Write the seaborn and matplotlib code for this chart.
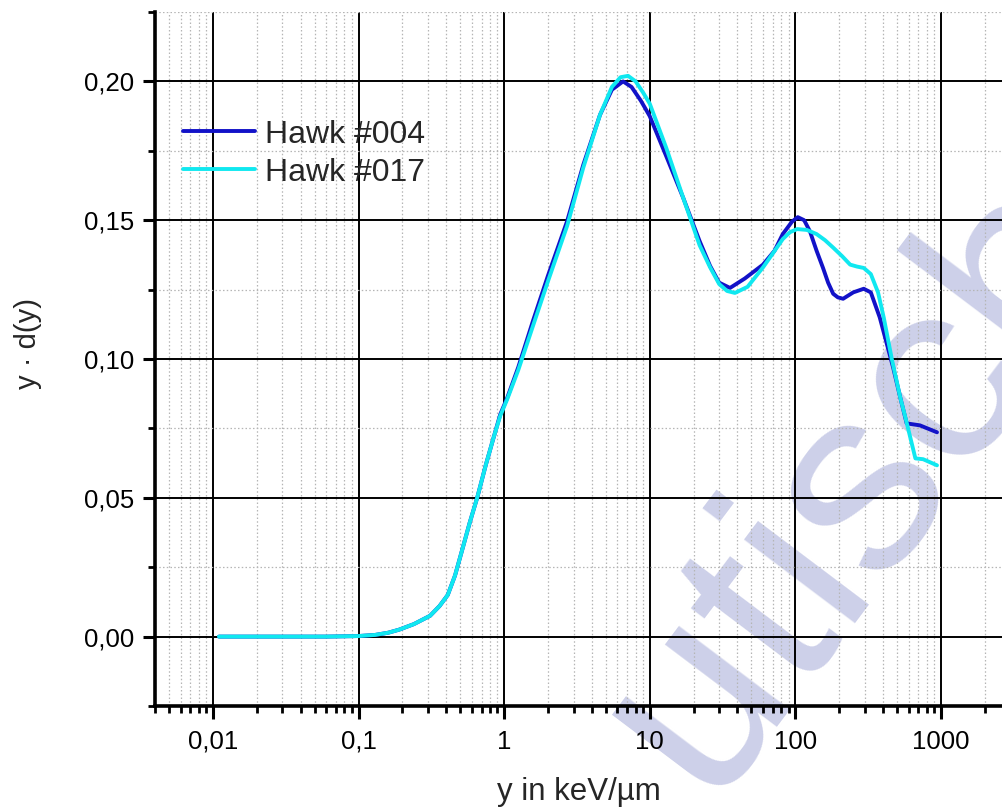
import numpy as np
import pandas as pd
import matplotlib
matplotlib.use("Agg")
import matplotlib.pyplot as plt
import matplotlib.ticker as mticker
import seaborn as sns

# ---- data ----
x_004 = [0.011, 0.03, 0.06, 0.1, 0.13, 0.16, 0.19, 0.24, 0.31, 0.36, 0.41, 0.46, 0.52,
         0.58, 0.653, 0.75, 0.85, 0.94, 1.05, 1.25, 1.58, 2.0, 2.71, 3.5, 4.56, 5.5,
         6.56, 7.5, 8.7, 10, 13, 17, 22, 26, 30, 35.6, 45, 60, 72, 82, 95, 104, 115, 126,
         140, 155, 168, 182, 196, 213, 250, 295, 330, 380, 470, 526, 582, 717, 940]
y_004 = [0.0, 0.0, 0.0, 0.0002, 0.0006, 0.0014, 0.0025, 0.0045, 0.0075, 0.011, 0.015,
         0.022, 0.032, 0.041, 0.050, 0.062, 0.072, 0.080, 0.086, 0.097, 0.1138, 0.130,
         0.1497, 0.170, 0.188, 0.197, 0.200, 0.198, 0.193, 0.1875, 0.173, 0.158, 0.1425,
         0.1335, 0.1275, 0.1256, 0.129, 0.134, 0.139, 0.145, 0.1495, 0.1511, 0.150, 0.146,
         0.139, 0.1328, 0.1275, 0.1235, 0.1222, 0.1217, 0.124, 0.1253, 0.124, 0.115,
         0.0969, 0.0861, 0.0768, 0.0761, 0.0736]

x_017 = [0.011, 0.03, 0.06, 0.1, 0.13, 0.16, 0.19, 0.24, 0.31, 0.36, 0.41, 0.46, 0.52,
         0.58, 0.653, 0.75, 0.85, 0.94, 1.05, 1.25, 1.58, 2.0, 2.71, 3.5, 4.56, 5.5,
         6.3, 7.1, 8.0, 9.0, 10, 13, 17, 22, 26, 30, 34, 38.5, 47, 60, 70, 82, 92, 103,
         120, 140, 160, 183, 210, 238, 265, 295, 330, 370, 405, 460, 526, 570, 668, 755, 940]
y_017 = [0.0, 0.0, 0.0, 0.0002, 0.0006, 0.0014, 0.0025, 0.0045, 0.0075, 0.011, 0.015,
         0.022, 0.032, 0.041, 0.050, 0.062, 0.072, 0.0795, 0.0855, 0.096, 0.112, 0.128,
         0.148, 0.169, 0.188, 0.198, 0.2015, 0.202, 0.200, 0.196, 0.192, 0.176, 0.158,
         0.141, 0.133, 0.127, 0.1245, 0.1238, 0.126, 0.133, 0.138, 0.1432, 0.1457, 0.1468,
         0.1465, 0.145, 0.1428, 0.140, 0.137, 0.134, 0.1333, 0.1328, 0.1306, 0.124, 0.1149,
         0.100, 0.0861, 0.079, 0.0642, 0.0639, 0.0617]

series_names = ["Hawk #004", "Hawk #017"]
x_ticks = [0.01, 0.1, 1, 10, 100, 1000]
x_tick_labels = ["0,01", "0,1", "1", "10", "100", "1000"]
y_ticks = [0.00, 0.05, 0.10, 0.15, 0.20]
y_tick_labels = ["0,00", "0,05", "0,10", "0,15", "0,20"]

df = pd.concat([
    pd.DataFrame({"x": x_004, "y": y_004, "series": series_names[0]}),
    pd.DataFrame({"x": x_017, "y": y_017, "series": series_names[1]}),
], ignore_index=True)

sns.set_theme(style="white")
plt.rcParams["font.family"] = ["Liberation Sans", "DejaVu Sans"]

fig = plt.figure(figsize=(10.03, 8.07), dpi=100)
ax = fig.add_axes([155 / 1003, 1 - 706 / 807, 1 - 155 / 1003, (706 - 12) / 807])
ax.patch.set_alpha(0)

# watermark (behind axes)
fig.text(860 / 1003, 1 - 482 / 807, "utisch", rotation=53, color="#cdd0e9",
         fontsize=190, fontweight="normal", ha="center", va="center",
         rotation_mode="anchor", zorder=-5)

palette = {series_names[0]: "#1212c8", series_names[1]: "#10e8f0"}
sns.lineplot(data=df, x="x", y="y", hue="series", palette=palette, sort=False,
             estimator=None, linewidth=2.8, ax=ax, zorder=5)

ax.set_xscale("log")
ax.set_xlim(0.004, 2670)
ax.set_ylim(-0.025, 0.225)

ax.xaxis.set_major_locator(mticker.FixedLocator(x_ticks))
ax.xaxis.set_major_formatter(mticker.FixedFormatter(x_tick_labels))
ax.xaxis.set_minor_locator(mticker.LogLocator(base=10, subs=np.arange(2, 10), numticks=20))
ax.xaxis.set_minor_formatter(mticker.NullFormatter())
ax.yaxis.set_major_locator(mticker.FixedLocator(y_ticks))
ax.yaxis.set_major_formatter(mticker.FixedFormatter(y_tick_labels))
ax.yaxis.set_minor_locator(mticker.MultipleLocator(0.025))

ax.grid(which="major", color="black", linewidth=1.4, linestyle="-", zorder=1)
ax.grid(which="minor", color="#b5b5b5", linewidth=0.9, linestyle=(0, (1.2, 1.8)), zorder=1)
ax.set_axisbelow(True)

for s in ["top", "right"]:
    ax.spines[s].set_visible(False)
for s in ["left", "bottom"]:
    ax.spines[s].set_linewidth(2.6)
    ax.spines[s].set_color("black")

ax.tick_params(which="major", direction="out", length=9, width=2.2, colors="black",
               labelsize=18.5, left=True, bottom=True)
ax.tick_params(which="minor", direction="out", length=5, width=2.0, colors="black",
               left=True, bottom=True)
ax.tick_params(axis="x", which="major", pad=8)
ax.tick_params(axis="y", which="major", pad=6)

ax.set_xlabel("y in keV/µm", fontsize=22.5)
ax.set_ylabel("y · d(y)", fontsize=21)
ax.xaxis.set_label_coords(0.5, -0.102)
ax.yaxis.set_label_coords(-0.133, 0.522)

leg = ax.legend(loc="upper left", bbox_to_anchor=(0.033, 0.845), frameon=False,
                fontsize=23, handlelength=2.25, handletextpad=0.31, labelspacing=0.25,
                borderpad=0, borderaxespad=0)
for line in leg.get_lines():
    line.set_linewidth(2.8)

fig.savefig("out.png", dpi=100)
